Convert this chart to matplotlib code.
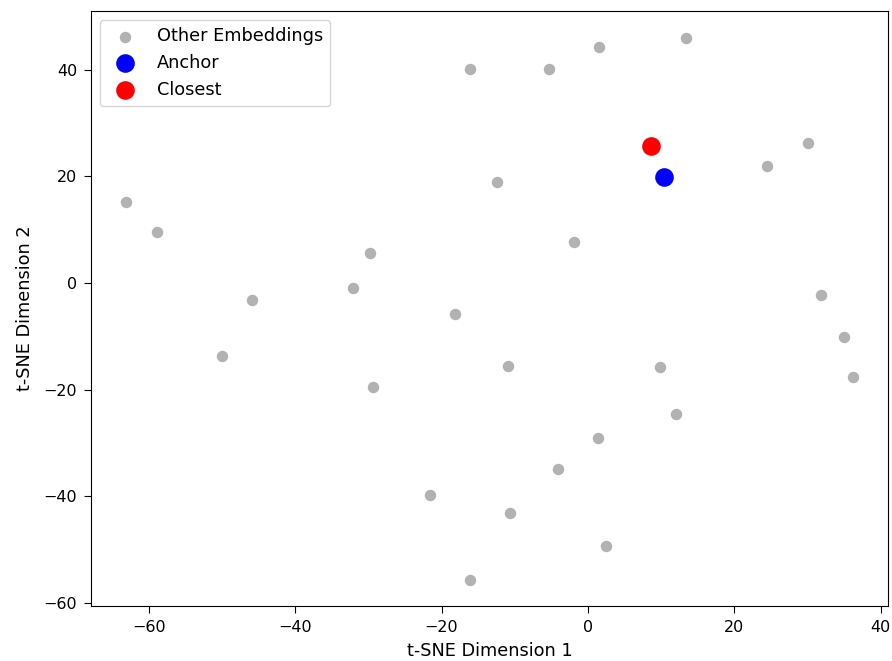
import numpy as np
import matplotlib
matplotlib.use("Agg")
import matplotlib.pyplot as plt

# t-SNE coordinates of the embeddings
other_x = [13.4, 1.5, -16.1, -5.3, 30.1, 24.5, -12.4, -63.1, -58.9, -1.9,
           -29.8, -45.9, -32.1, -18.2, 31.8, 35.0, 36.2, -50.0, -10.9, 9.8,
           -29.4, 12.0, 1.4, -4.1, -21.6, -10.7, 2.5, -16.1]
other_y = [46.0, 44.3, 40.1, 40.1, 26.3, 22.0, 18.9, 15.2, 9.6, 7.7,
           5.6, -3.2, -0.9, -5.8, -2.3, -10.1, -17.6, -13.7, -15.6, -15.8,
           -19.5, -24.6, -29.1, -34.9, -39.8, -43.2, -49.3, -55.7]
anchor = (10.4, 19.9)
closest = (8.6, 25.7)

fig = plt.figure(figsize=(8.92, 6.61), dpi=100)
ax = fig.add_axes([0.102, 0.083, 0.8935, 0.9])

ax.scatter(other_x, other_y, c='gray', alpha=0.6, s=68, linewidths=0,
           label='Other Embeddings')
ax.scatter(anchor[0], anchor[1], c='blue', s=180, linewidths=0, label='Anchor')
ax.scatter(closest[0], closest[1], c='red', s=180, linewidths=0, label='Closest')

ax.set_xlim(-67.9, 41.0)
ax.set_ylim(-60.6, 51.0)
ax.set_xlabel('t-SNE Dimension 1', fontsize=12.8, labelpad=5)
ax.set_ylabel('t-SNE Dimension 2', fontsize=12.8, labelpad=7)
ax.tick_params(labelsize=11.5, length=5, pad=5)
ax.legend(loc='upper left', fontsize=12.8)

fig.savefig('out.png', dpi=100)
